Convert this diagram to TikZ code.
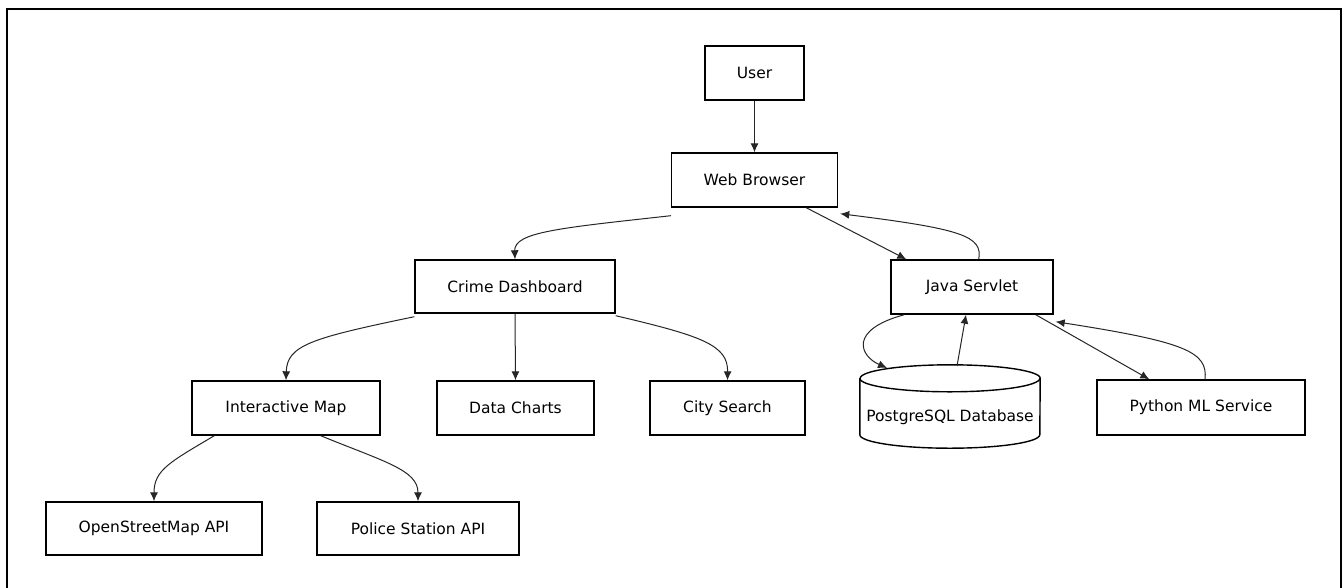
\documentclass[tikz,border=0pt]{standalone}
\usepackage{fontspec}
\setmainfont{DejaVu Sans}
\usetikzlibrary{arrows.meta}
\begin{document}
\begin{tikzpicture}[x=1pt,y=-1pt,
  boxnode/.style={draw=black,line width=1.4pt,fill=white,inner sep=0pt,
    font=\fontsize{15.5}{18}\selectfont,text=black},
  conn/.style={draw=black!85,line width=1pt,-{Latex[length=9pt,width=8pt]}}]
\useasboundingbox (0,0) rectangle (1343,587);
\fill[white] (0,0) rectangle (1343,587);
\draw[line width=2pt] (7,600) -- (7,9) -- (1341,9) -- (1341,600);

\node[boxnode,minimum width=99pt,minimum height=54pt] (user) at (754.5,73) {User};
\node[boxnode,minimum width=166pt,minimum height=54pt] (wb) at (754.5,180) {Web Browser};
\node[boxnode,minimum width=200pt,minimum height=53pt] (cd) at (515,286.5) {Crime Dashboard};
\node[boxnode,minimum width=162pt,minimum height=54pt] (js) at (972,287) {Java Servlet};
\node[boxnode,minimum width=188pt,minimum height=54pt] (im) at (286,408) {Interactive Map};
\node[boxnode,minimum width=157pt,minimum height=54pt] (dc) at (515.5,408) {Data Charts};
\node[boxnode,minimum width=155pt,minimum height=54pt] (cs) at (727.5,408) {City Search};
\node[boxnode,minimum width=208pt,minimum height=55pt] (py) at (1201,407.5) {Python ML Service};
\node[boxnode,minimum width=216pt,minimum height=53pt] (osm) at (154,528.5) {OpenStreetMap API};
\node[boxnode,minimum width=202pt,minimum height=53pt] (ps) at (418,528.5) {Police Station API};

% cylinder
\node[inner sep=0pt,minimum width=180pt,minimum height=83pt] (pg) at (950,406.5) {};
\draw[line width=1.4pt,fill=white]
  ([yshift=-13.5pt]pg.north west) -- ([yshift=13.5pt]pg.south west)
  arc[start angle=180,end angle=360,x radius=90pt,y radius=13.5pt]
  -- ([yshift=-13.5pt]pg.north east)
  arc[start angle=0,end angle=180,x radius=90pt,y radius=13.5pt];
\draw[line width=1.4pt] ([yshift=-13.5pt]pg.north west)
  arc[start angle=180,end angle=360,x radius=90pt,y radius=13.5pt];
\node[font=\fontsize{15.5}{18}\selectfont,text=black] at (950,417) {PostgreSQL Database};

% connectors
\draw[conn] (user.south) -- (wb.north);
\draw[conn] ([yshift=-8pt]wb.south west) .. controls (560,228) and (514,232) .. (cd.north);
\draw[conn] ([xshift=-32pt]wb.south east) -- ([xshift=16pt]js.north west);
\draw[conn] ([xshift=-75pt]js.north east) .. controls (983,236) and (962,229) .. ([xshift=2pt,yshift=-6pt]wb.south east);
\draw[conn] ([yshift=-3pt]cd.south west) .. controls (312,338) and (287,345) .. (im.north);
\draw[conn] (cd.south) -- (dc.north);
\draw[conn] ([yshift=-2pt]cd.south east) .. controls (702,336) and (728,345) .. (cs.north);
\draw[conn] ([xshift=23pt]im.south west) .. controls (170,462) and (154,470) .. (osm.north);
\draw[conn] ([xshift=-60pt]im.south east) .. controls (385,462) and (418,470) .. (ps.north);
\draw[conn] ([xshift=14pt]js.south west) .. controls (848,330) and (860,356) .. (887,368);
\draw[conn] (957,366) -- ([xshift=-6pt]js.south);
\draw[conn] ([xshift=-18pt]js.south east) -- ([xshift=53pt]py.north west);
\draw[conn] ([xshift=4pt]py.north) .. controls (1208,352) and (1186,342) .. ([xshift=2pt,yshift=-7pt]js.south east);
\end{tikzpicture}
\end{document}
